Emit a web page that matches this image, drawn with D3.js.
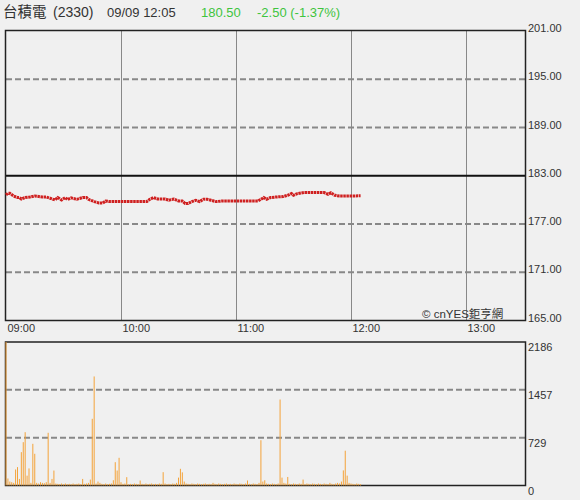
<!DOCTYPE html>
<html><head><meta charset="utf-8">
<script src="https://cdn.jsdelivr.net/npm/d3@7"></script>
<style>
html,body{margin:0;padding:0;background:#f0f0f0;}
svg{display:block;font-family:"Liberation Sans",Arial,"Noto Sans CJK TC",sans-serif;}
</style></head>
<body>
<svg id="c" width="580" height="500"></svg>
<script>
// ---- data ----
const stockName = "台積電";
const stockCode = "(2330)";
const stamp = "09/09 12:05";
const lastPrice = "180.50";
const change = "-2.50 (-1.37%)";
const prevClose = 183;

const priceTicks = [201, 195, 189, 183, 177, 171, 165];
const volTicks = [2186, 1457, 729, 0];
const timeLabels = ["09:00", "10:00", "11:00", "12:00", "13:00"];
const timeMinutes = [0, 60, 120, 180, 240];

// price read at minutes after 09:00
const priceMinutes = [0,1,2,4,6,7,8,10,12.5,15,19,21,23,25.5,27,29,31,32,34,37,40,42,43,46,48.5,50.5,52,54,73.5,75,77,79,83,85,87.5,90,92,93.5,95,97,99,101,103,105,107,109.5,113,131.5,133,134.5,136,138,141,144.5,147,149,150,152,155.5,166,168,169.5,171.5,174,185];
const prices = [180.61,180.82,180.82,180.48,180.29,180.29,180.11,180.29,180.36,180.48,180.36,180.36,180.20,179.99,180.29,179.99,180.29,180.04,180.25,180.07,180.29,180.29,180.07,179.79,179.61,179.61,179.86,179.79,179.79,180.07,180.29,180.11,180.11,179.95,180.11,179.86,179.86,179.54,179.54,179.79,179.95,179.79,180.07,180.07,179.95,179.79,179.86,179.86,180.07,180.29,180.07,180.29,180.36,180.41,180.57,180.78,180.57,180.78,180.91,180.91,180.70,180.88,180.57,180.48,180.50];

// volume per minute, minutes 0..185
const volumes = [2186,107,60,50,40,244,280,100,508,660,812,150,260,40,635,483,40,30,50,40,
35,50,803,40,100,228,30,25,20,30,20,30,20,25,20,30,20,25,30,20,
100,25,30,40,90,1016,1661,30,60,40,25,20,30,20,25,30,80,355,228,422,
50,25,30,127,20,25,20,30,25,20,76,25,20,30,20,25,30,20,25,20,
30,25,203,30,20,25,20,30,25,40,120,254,200,60,30,25,20,30,25,20,
30,25,20,25,30,20,25,20,40,25,20,30,25,20,25,30,20,25,20,30,
25,20,30,25,20,30,76,25,20,30,25,20,40,690,60,80,30,25,20,30,
25,20,30,1310,120,40,30,130,25,20,30,25,20,30,25,90,20,30,25,20,
30,25,20,30,25,20,30,25,20,40,25,20,30,40,30,60,230,530,150,40,
30,25,20,30,25,20];

// ---- drawing ----
const svg = d3.select("#c");
const x = d3.scaleLinear().domain([0, 270]).range([6, 523.5]);
const yP = d3.scaleLinear().domain([165, 201]).range([320.5, 31]);
const yV = d3.scaleLinear().domain([0, 2186]).range([485.5, 342]);

// header
const hdr = svg.append("text").attr("y", 17).attr("font-size", 14).attr("fill", "#333");
hdr.append("tspan").attr("x", 3).attr("font-family", "'Noto Sans CJK TC',sans-serif").attr("font-size", 14.5).text(stockName);
hdr.append("tspan").attr("x", 53).text(stockCode);
svg.append("text").attr("x", 107).attr("y", 17).attr("font-size", 13).attr("fill", "#333").text(stamp);
svg.append("text").attr("x", 201).attr("y", 17).attr("font-size", 13).attr("fill", "#3ec43e").text(lastPrice);
svg.append("text").attr("x", 257).attr("y", 17).attr("font-size", 13).attr("fill", "#3ec43e").text(change);

// price panel grid
const gP = svg.append("g");
gP.selectAll("line.v").data(timeMinutes.slice(1)).enter().append("line")
  .attr("x1", d => Math.round(x(d)) + 0.5).attr("x2", d => Math.round(x(d)) + 0.5)
  .attr("y1", 31).attr("y2", 320).attr("stroke", "#888").attr("stroke-width", 1);
gP.selectAll("line.h").data(priceTicks.filter(d => d !== 201 && d !== 165 && d !== prevClose)).enter().append("line")
  .attr("x1", 6).attr("x2", 525).attr("y1", d => yP(d)).attr("y2", d => yP(d))
  .attr("stroke", "#888").attr("stroke-width", 2).attr("stroke-dasharray", "6,3");
gP.append("line").attr("x1", 6).attr("x2", 525).attr("y1", yP(prevClose)).attr("y2", yP(prevClose))
  .attr("stroke", "#111").attr("stroke-width", 2);
gP.append("rect").attr("x", 5.5).attr("y", 30.5).attr("width", 520).attr("height", 290)
  .attr("fill", "none").attr("stroke", "#222").attr("stroke-width", 1.5);

// price line
const pts = priceMinutes.map((m, i) => ({m: m, p: prices[i]}));
gP.append("path").datum(pts)
  .attr("d", d3.line().x(d => x(d.m)).y(d => yP(d.p)))
  .attr("fill", "none").attr("stroke", "#cf2020").attr("stroke-width", 3)
  .attr("stroke-dasharray", "2.5,0.6");

// price axis
const aP = svg.append("g").attr("transform", "translate(525,0)")
  .call(d3.axisRight(yP).tickValues(priceTicks).tickFormat(d3.format(".2f")).tickSize(0).tickPadding(3));
aP.select(".domain").remove();
aP.selectAll("text").attr("font-size", 11).attr("fill", "#333").attr("font-family", "'Liberation Sans',Arial,sans-serif").attr("dy", "0.05em");

// time axis
const aT = svg.append("g").attr("transform", "translate(0,321)")
  .call(d3.axisBottom(x).tickValues(timeMinutes).tickFormat((d, i) => timeLabels[i]).tickSize(0).tickPadding(3));
aT.select(".domain").remove();
aT.selectAll("text").attr("text-anchor", "start").attr("dx", 1).attr("font-size", 11).attr("fill", "#333")
  .attr("font-family", "'Liberation Sans',Arial,sans-serif");

// copyright
svg.append("text").attr("x", 422).attr("y", 318).attr("font-size", 11.5).attr("fill", "#333")
  .attr("font-family", "'Liberation Sans','Noto Sans CJK TC',sans-serif").text("© cnYES鉅亨網");

// volume panel
const gV = svg.append("g");
gV.selectAll("line.h").data(volTicks.filter(d => d !== 0 && d !== 2186)).enter().append("line")
  .attr("x1", 6).attr("x2", 525).attr("y1", d => yV(d)).attr("y2", d => yV(d))
  .attr("stroke", "#888").attr("stroke-width", 2).attr("stroke-dasharray", "6,3");
gV.append("rect").attr("x", 5.5).attr("y", 342).attr("width", 520).attr("height", 143.5)
  .attr("fill", "none").attr("stroke", "#222").attr("stroke-width", 1.5);
gV.selectAll("line.bar").data(volumes).enter().append("line")
  .attr("x1", (d, i) => x(i)).attr("x2", (d, i) => x(i))
  .attr("y1", yV(0)).attr("y2", d => yV(d))
  .attr("stroke", "#f4a33a").attr("stroke-width", 1);

const aV = svg.append("g").attr("transform", "translate(525,0)")
  .call(d3.axisRight(yV).tickValues(volTicks).tickFormat(d3.format("d")).tickSize(0).tickPadding(3));
aV.select(".domain").remove();
aV.selectAll("text").attr("font-size", 11).attr("fill", "#333").attr("font-family", "'Liberation Sans',Arial,sans-serif").attr("dy", "0.8em");
</script>
</body></html>
